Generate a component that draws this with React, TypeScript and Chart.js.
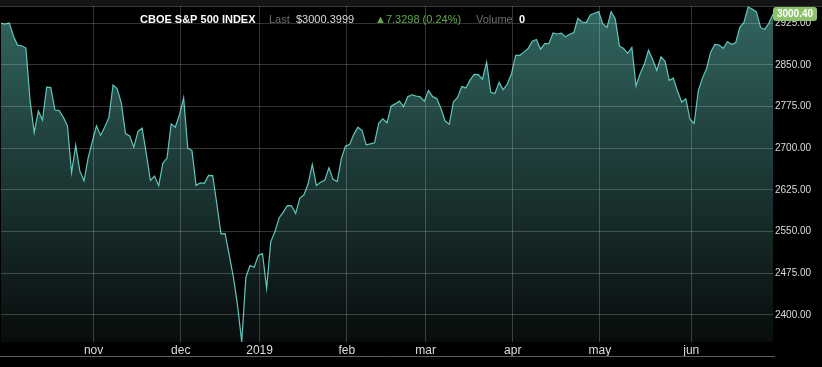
import React, { useEffect, useRef } from "react";
import { Chart, registerables } from "chart.js";

Chart.register(...registerables);

// Trading days (Oct 2018 – Jun 2019)
const dates: string[] = [
  "2018-10-01","2018-10-02","2018-10-03","2018-10-04","2018-10-05","2018-10-08","2018-10-09","2018-10-10","2018-10-11","2018-10-12",
  "2018-10-15","2018-10-16","2018-10-17","2018-10-18","2018-10-19","2018-10-22","2018-10-23","2018-10-24","2018-10-25","2018-10-26",
  "2018-10-29","2018-10-30","2018-10-31",
  "2018-11-01","2018-11-02","2018-11-05","2018-11-06","2018-11-07","2018-11-08","2018-11-09","2018-11-12","2018-11-13","2018-11-14",
  "2018-11-15","2018-11-16","2018-11-19","2018-11-20","2018-11-21","2018-11-23","2018-11-26","2018-11-27","2018-11-28","2018-11-29",
  "2018-11-30",
  "2018-12-03","2018-12-04","2018-12-06","2018-12-07","2018-12-10","2018-12-11","2018-12-12","2018-12-13","2018-12-14","2018-12-17",
  "2018-12-18","2018-12-19","2018-12-20","2018-12-21","2018-12-24","2018-12-26","2018-12-27","2018-12-28","2018-12-31",
  "2019-01-02","2019-01-03","2019-01-04","2019-01-07","2019-01-08","2019-01-09","2019-01-10","2019-01-11","2019-01-14","2019-01-15",
  "2019-01-16","2019-01-17","2019-01-18","2019-01-22","2019-01-23","2019-01-24","2019-01-25","2019-01-28","2019-01-29","2019-01-30",
  "2019-01-31",
  "2019-02-01","2019-02-04","2019-02-05","2019-02-06","2019-02-07","2019-02-08","2019-02-11","2019-02-12","2019-02-13","2019-02-14",
  "2019-02-15","2019-02-19","2019-02-20","2019-02-21","2019-02-22","2019-02-25","2019-02-26","2019-02-27","2019-02-28",
  "2019-03-01","2019-03-04","2019-03-05","2019-03-06","2019-03-07","2019-03-08","2019-03-11","2019-03-12","2019-03-13","2019-03-14",
  "2019-03-15","2019-03-18","2019-03-19","2019-03-20","2019-03-21","2019-03-22","2019-03-25","2019-03-26","2019-03-27","2019-03-28",
  "2019-03-29",
  "2019-04-01","2019-04-02","2019-04-03","2019-04-04","2019-04-05","2019-04-08","2019-04-09","2019-04-10","2019-04-11","2019-04-12",
  "2019-04-15","2019-04-16","2019-04-17","2019-04-18","2019-04-22","2019-04-23","2019-04-24","2019-04-25","2019-04-26","2019-04-29",
  "2019-04-30",
  "2019-05-01","2019-05-02","2019-05-03","2019-05-06","2019-05-07","2019-05-08","2019-05-09","2019-05-10","2019-05-13","2019-05-14",
  "2019-05-15","2019-05-16","2019-05-17","2019-05-20","2019-05-21","2019-05-22","2019-05-23","2019-05-24","2019-05-28","2019-05-29",
  "2019-05-30","2019-05-31",
  "2019-06-03","2019-06-04","2019-06-05","2019-06-06","2019-06-07","2019-06-10","2019-06-11","2019-06-12","2019-06-13","2019-06-14",
  "2019-06-17","2019-06-18","2019-06-19","2019-06-20","2019-06-21","2019-06-24","2019-06-25","2019-06-26","2019-06-27","2019-06-28",
];

const closes: number[] = [
  2924.59,2923.43,2925.51,2901.61,2885.57,2884.43,2880.34,2785.68,2728.37,2767.13,
  2750.79,2809.92,2809.21,2768.78,2767.78,2755.88,2740.69,2656.10,2705.57,2658.69,
  2641.25,2682.63,2711.74,
  2740.37,2723.06,2738.31,2755.45,2813.89,2806.83,2781.01,2726.22,2722.18,2701.58,
  2730.20,2736.27,2690.73,2641.89,2649.93,2632.56,2673.45,2682.17,2743.79,2737.76,
  2760.17,
  2790.37,2700.06,2695.95,2633.08,2637.72,2636.78,2651.07,2650.54,2599.95,2545.94,
  2546.16,2506.96,2467.42,2416.62,2351.10,2467.70,2488.83,2485.74,2506.85,
  2510.03,2447.89,2531.94,2549.69,2574.41,2584.96,2596.64,2596.26,2582.61,2610.30,
  2616.10,2635.96,2670.71,2632.90,2638.70,2642.33,2664.76,2643.85,2640.00,2681.05,
  2704.10,
  2706.53,2724.87,2737.70,2731.61,2706.05,2707.88,2709.80,2744.73,2753.03,2745.73,
  2775.60,2779.76,2784.70,2774.88,2792.67,2796.11,2793.90,2792.38,2784.49,
  2803.69,2792.81,2789.65,2771.45,2748.93,2743.07,2783.30,2791.52,2810.92,2808.48,
  2822.48,2832.94,2832.57,2824.23,2854.88,2800.71,2798.36,2818.46,2805.37,2815.44,
  2834.40,
  2867.19,2867.24,2873.40,2879.39,2892.74,2895.77,2878.20,2888.21,2888.32,2907.41,
  2905.58,2907.06,2900.45,2905.03,2907.97,2933.68,2927.25,2926.17,2939.88,2943.03,
  2945.83,
  2923.73,2917.52,2945.64,2932.47,2884.05,2879.42,2870.72,2881.40,2811.87,2834.41,
  2850.96,2876.32,2859.53,2840.23,2864.36,2856.27,2822.24,2826.06,2802.39,2783.02,
  2788.86,2752.06,
  2744.45,2803.27,2826.15,2843.49,2873.34,2886.73,2885.72,2879.84,2891.64,2886.98,
  2889.67,2917.75,2926.46,2954.18,2950.46,2945.35,2917.38,2913.78,2924.92,2941.76,
];

const yTickValues: number[] = [2400, 2475, 2550, 2625, 2700, 2775, 2850, 2925];
const monthNames: string[] = ["jan","feb","mar","apr","may","jun","jul","aug","sep","oct","nov","dec"];

const titleText = "CBOE S&P 500 INDEX";
const lastPrice = 3000.3999;
const changeValue = 7.3298;
const changePct = 0.24;
const volumeValue = 0;

export default function App() {
  const ref = useRef<HTMLCanvasElement | null>(null);

  useEffect(() => {
    document.body.style.margin = "0";
    document.body.style.background = "#000";
    const canvas = ref.current;
    if (!canvas) return;

    const points = closes.map((v, i) => ({ x: i, y: v }));
    const monthTicks: { value: number; label: string }[] = [];
    for (let i = 1; i < dates.length; i++) {
      const m0 = dates[i - 1].slice(5, 7);
      const m1 = dates[i].slice(5, 7);
      if (m0 !== m1) {
        const mi = parseInt(m1, 10) - 1;
        monthTicks.push({ value: i - 0.7, label: mi === 0 ? dates[i].slice(0, 4) : monthNames[mi] });
      }
    }

    const gridColor = "rgba(255,255,255,0.2)";

    const framePlugin = {
      id: "frame",
      beforeDraw(chart: any) {
        const { ctx, width } = chart;
        ctx.save();
        ctx.fillStyle = "#000";
        ctx.fillRect(0, 0, width, chart.height);
        ctx.fillStyle = "#141414";
        ctx.fillRect(0, 0, width, 6);
        ctx.strokeStyle = "#383838";
        ctx.lineWidth = 1;
        ctx.beginPath();
        ctx.moveTo(0, 6.5);
        ctx.lineTo(width, 6.5);
        ctx.stroke();
        ctx.restore();
      },
      afterDraw(chart: any) {
        const { ctx, chartArea } = chart;
        const yScale = chart.scales.y;
        ctx.save();
        // bottom rule
        ctx.strokeStyle = "#5c5c5c";
        ctx.lineWidth = 1;
        ctx.beginPath();
        ctx.moveTo(0, 356.5);
        ctx.lineTo(chartArea.right + 2, 356.5);
        ctx.stroke();

        // header
        ctx.textBaseline = "middle";
        ctx.textAlign = "left";
        const hy = 20;
        ctx.font = "bold 11px Arial";
        ctx.fillStyle = "#ffffff";
        ctx.fillText(titleText, 140, hy);
        ctx.font = "11px Arial";
        ctx.fillStyle = "#6e6e6e";
        ctx.fillText("Last", 269, hy);
        ctx.fillStyle = "#dddddd";
        ctx.fillText("$" + lastPrice.toFixed(4), 296, hy);
        ctx.fillStyle = "#62a84a";
        ctx.fillText("\u25B2" + changeValue.toFixed(4) + " (" + changePct.toFixed(2) + "%)", 375, hy);
        ctx.fillStyle = "#6e6e6e";
        ctx.fillText("Volume", 476, hy);
        ctx.font = "bold 11px Arial";
        ctx.fillStyle = "#ffffff";
        ctx.fillText(String(volumeValue), 519, hy);

        // last price badge
        const label = lastPrice.toFixed(2);
        let cy = yScale.getPixelForValue(lastPrice);
        cy = Math.max(chartArea.top + 8, Math.min(chartArea.bottom - 8, cy));
        const bx = chartArea.right, bw = 44, bh = 14, r = 3;
        const by = cy - bh / 2;
        ctx.fillStyle = "#8cc26c";
        ctx.beginPath();
        ctx.moveTo(bx + r, by);
        ctx.lineTo(bx + bw - r, by);
        ctx.quadraticCurveTo(bx + bw, by, bx + bw, by + r);
        ctx.lineTo(bx + bw, by + bh - r);
        ctx.quadraticCurveTo(bx + bw, by + bh, bx + bw - r, by + bh);
        ctx.lineTo(bx + r, by + bh);
        ctx.quadraticCurveTo(bx, by + bh, bx, by + bh - r);
        ctx.lineTo(bx, by + r);
        ctx.quadraticCurveTo(bx, by, bx + r, by);
        ctx.closePath();
        ctx.fill();
        ctx.font = "bold 10px Arial";
        ctx.fillStyle = "#ffffff";
        ctx.textAlign = "center";
        ctx.fillText(label, bx + bw / 2, cy + 0.5);
        ctx.restore();
      },
    };

    const chart = new Chart(canvas, {
      type: "line",
      data: {
        datasets: [
          {
            data: points,
            borderColor: "#5fc6bc",
            borderWidth: 1.2,
            pointRadius: 0,
            tension: 0,
            fill: "start",
            backgroundColor: (c: any) => {
              const area = c.chart.chartArea;
              if (!area) return "rgba(40,90,85,0.5)";
              const g = c.chart.ctx.createLinearGradient(0, area.top, 0, area.bottom);
              g.addColorStop(0, "rgb(50,102,97)");
              g.addColorStop(0.5, "rgb(28,56,53)");
              g.addColorStop(1, "rgb(8,12,12)");
              return g;
            },
          },
        ],
      },
      options: {
        responsive: false,
        animation: false,
        layout: { padding: { left: 1, top: 6, right: 0, bottom: 0 } },
        plugins: { legend: { display: false }, tooltip: { enabled: false } },
        scales: {
          x: {
            type: "linear",
            min: 0,
            max: closes.length - 1,
            grid: { color: gridColor, z: 1, drawTicks: false },
            border: { display: false },
            afterBuildTicks: (s: any) => {
              s.ticks = monthTicks.map((t) => ({ value: t.value }));
            },
            ticks: {
              autoSkip: false,
              maxRotation: 0,
              color: "#dddddd",
              font: { family: "Arial", size: 12 },
              padding: 1,
              callback: (_v: any, i: number) => (monthTicks[i] ? monthTicks[i].label : ""),
            },
            afterFit: (s: any) => {
              s.height = 25;
              s.paddingLeft = 0;
              s.paddingRight = 0;
            },
          },
          y: {
            type: "linear",
            position: "right",
            min: 2351.1,
            max: 2956,
            grid: { color: gridColor, z: 1, drawTicks: false },
            border: { display: false },
            afterBuildTicks: (s: any) => {
              s.ticks = yTickValues.map((v) => ({ value: v }));
            },
            ticks: {
              color: "#dddddd",
              font: { family: "Arial", size: 10 },
              padding: 2,
              callback: (v: any) => Number(v).toFixed(2),
            },
            afterFit: (s: any) => {
              s.width = 49;
              s.paddingTop = 0;
              s.paddingBottom = 0;
            },
          },
        },
      } as any,
      plugins: [framePlugin],
    });

    return () => chart.destroy();
  }, []);

  return (
    <div style={{ position: "absolute", left: 0, top: 0, width: 822, height: 367, background: "#000" }}>
      <canvas ref={ref} width={822} height={367} style={{ display: "block" }} />
    </div>
  );
}
